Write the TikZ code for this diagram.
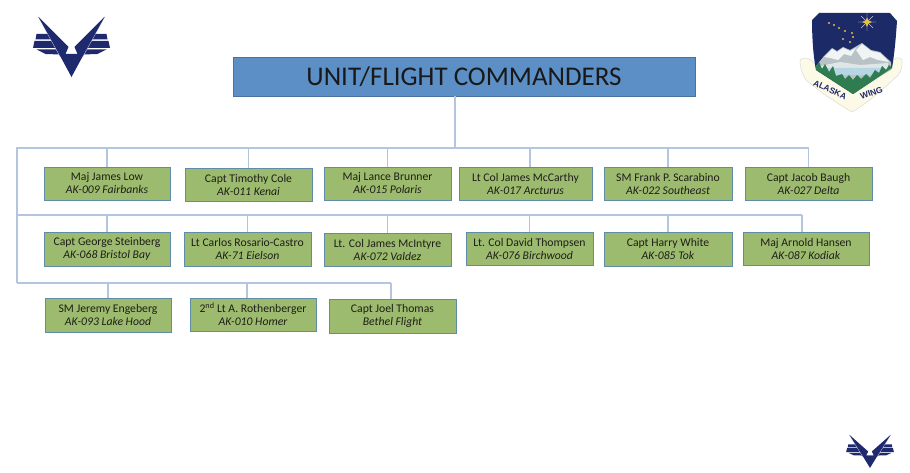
\documentclass[tikz,border=0pt]{standalone}
\usepackage{fontspec}
\setmainfont{Carlito}
\newfontfamily\badgefont{Liberation Sans}
\definecolor{boxgreen}{HTML}{9DBB6F}
\definecolor{boxedge}{HTML}{5F8CA6}
\definecolor{topblue}{HTML}{5B8FC6}
\definecolor{busline}{HTML}{B4C6DF}
\definecolor{inktext}{HTML}{1E1E18}
\definecolor{navy}{HTML}{1F2A6E}
\definecolor{lav}{HTML}{B9BDE0}
\definecolor{cream}{HTML}{FCF9E6}
\definecolor{sky}{HTML}{1C2A68}
\definecolor{rock}{HTML}{B9C2C6}
\definecolor{snow}{HTML}{F1F4F4}
\definecolor{lake}{HTML}{B5D6E2}
\definecolor{pine}{HTML}{2F7C50}
\definecolor{gold}{HTML}{E8BE3C}
\newcommand{\ub}[7]{%
  \pgfmathsetmacro{\ubw}{#4-#2}\pgfmathsetmacro{\ubh}{#5-#3}%
  \pgfmathsetmacro{\ubx}{(#2+#4)/2}\pgfmathsetmacro{\uby}{(#3+#5)/2}%
  \node[unitbox,minimum width=\ubw pt,minimum height=\ubh pt] (#1) at (\ubx,\uby) {#6\\\textit{#7}};%
}
\tikzset{
  x=1pt,y=-1pt,
  unitbox/.style={draw=boxedge,line width=0.9pt,fill=boxgreen,inner sep=0pt,align=center,
    text=inktext,font=\fontsize{11.7}{13}\selectfont},
  topbox/.style={fill=topblue,draw=topblue!80!black,line width=0.4pt,inner sep=0pt,
    text=black!90,font=\fontsize{27}{30}\selectfont},
  busl/.style={draw=busline,line width=1.2pt},
  logoband/.style={fill=navy},
}
\newcommand{\logo}[4]{%
 \begin{scope}[shift={(#1,#2)},xscale=#3,yscale=#4]
  \foreach \s in {-1,1}{
    \fill[logoband] (\s*35,34) -- (\s*23,34) -- (\s*18,39.5) -- (\s*36,39.5) -- cycle;
    \fill[logoband] (\s*37,41) -- (\s*18,41) -- (\s*15,48) -- (\s*38.5,48) -- cycle;
    \fill[logoband] (\s*35,49.5) -- (\s*14,49.5) -- (\s*11,54.5) -- (\s*26,54) -- cycle;
    \draw[lav,line width=0.8pt] (\s*33,17) -- (\s*11,57);
  }
  \fill[navy] (-33,17) -- (-3,47) -- (-6,54) -- (6,54) -- (3,47) -- (33,17)
     -- (13,53) -- (0,77) -- (-13,53) -- cycle;
 \end{scope}}
\begin{document}
\begin{tikzpicture}
\useasboundingbox (0,0) rectangle (910,473);
\fill[white] (0,0) rectangle (910,473);

% logos
\logo{71.5}{0}{1}{1}
\logo{870}{425.6}{0.62}{0.55}

% top box
\node[topbox,minimum width=462pt,minimum height=39pt] (top) at (464,76.5) {UNIT/FLIGHT COMMANDERS};

% row 1
\ub{a1}{44}{167}{170}{200}{Maj James Low}{AK-009 Fairbanks}
\ub{a2}{185}{168}{312}{201}{Capt Timothy Cole}{AK-011 Kenai}
\ub{a3}{324}{167}{451}{200}{Maj Lance Brunner}{AK-015 Polaris}
\ub{a4}{459}{167}{592}{200}{Lt Col James McCarthy}{AK-017 Arcturus}
\ub{a5}{604}{167}{732}{200}{SM Frank P. Scarabino}{AK-022 Southeast}
\ub{a6}{745}{167}{872}{200}{Capt Jacob Baugh}{AK-027 Delta}
% row 2
\ub{b1}{44}{232}{170}{266}{Capt George Steinberg}{AK-068 Bristol Bay}
\ub{b2}{184}{232}{311}{266}{Lt Carlos Rosario-Castro}{AK-71 Eielson}
\ub{b3}{324}{233}{451}{266}{Lt. Col James McIntyre}{AK-072 Valdez}
\ub{b4}{466}{232}{593}{265}{Lt. Col David Thompsen}{AK-076 Birchwood}
\ub{b5}{604}{232}{732}{266}{Capt Harry White}{AK-085 Tok}
\ub{b6}{743}{232}{869}{265}{Maj Arnold Hansen}{AK-087 Kodiak}
% row 3
\ub{c1}{45}{298}{171}{332}{SM Jeremy Engeberg}{AK-093 Lake Hood}
\ub{c2}{190}{298}{316}{331}{2\textsuperscript{nd} Lt A. Rothenberger}{AK-010 Homer}
\ub{c3}{329}{299}{456}{333}{Capt Joel Thomas}{Bethel Flight}

% connectors
\coordinate (busA) at (17,148);
\coordinate (busB) at (17,215);
\coordinate (busC) at (17,283);
\coordinate (trunk) at (455,148);
\draw[busl] (top.south -| trunk) -- (trunk);
\draw[busl] (busC) -- (busA) -- (a6.north |- busA);
\draw[busl] (busB) -- ([xshift=-4pt]b6.north |- busB);
\draw[busl] (busC) -- ([xshift=-1.5pt]c3.north |- busC);
\foreach \n/\d in {a1/0,a2/0,a3/0,a4/4.5,a5/0,a6/0}{
  \draw[busl] ([xshift=\d pt]\n.north) -- ([xshift=\d pt]\n.north |- busA);}
\foreach \n/\d in {b1/0,b2/0,b3/0,b4/0,b5/0,b6/-4}{
  \draw[busl] ([xshift=\d pt]\n.north) -- ([xshift=\d pt]\n.north |- busB);}
\foreach \n/\d in {c1/0,c2/-6,c3/-1.5}{
  \draw[busl] ([xshift=\d pt]\n.north) -- ([xshift=\d pt]\n.north |- busC);}

% badge: scroll
\fill[cream,draw=black!14,line width=0.5pt] (800,60) .. controls (804,56) and (811,58) .. (815,64)
  -- (852,90) -- (890,64) .. controls (894,57) and (900,56) .. (902,60)
  .. controls (903,68) and (899,76) .. (895,78) .. controls (880,92) and (866,104) .. (852,112)
  .. controls (838,104) and (820,92) .. (806,80) .. controls (802,74) and (800,68) .. cycle;
% badge: shield
\fill[sky] (819,13) -- (890,13) -- (897,21) .. controls (896,35) and (895,50) .. (892,68)
  -- (853,94) -- (816,70) .. controls (813,55) and (812,35) .. (812,20) -- cycle;
% mountains
\fill[rock] (816,66) -- (824,56) -- (832,48) -- (837,51) -- (843,47) -- (850,50) -- (862,43)
  -- (871,50) -- (880,52) -- (891,62) -- (891,70) -- (853,92) -- cycle;
\fill[snow] (824,57) -- (832,49) -- (837,52) -- (843,48) -- (850,51) -- (856,48) -- (851,56)
  -- (844,54) -- (838,60) -- (830,58) -- cycle;
\fill[snow] (856,50) -- (862,44) -- (871,51) -- (880,53) -- (889,62) -- (878,60) -- (870,57) -- (863,60) -- cycle;
\fill[snow!70!rock] (820,66) -- (840,62) -- (860,65) -- (888,63) -- (888,69) -- (822,70) -- cycle;
\fill[lake] (826,68) -- (884,68) -- (880,75) -- (832,75) -- cycle;
% trees
\fill[pine] (816,66) -- (819,62) -- (822,69) -- (825,64) -- (829,72) -- (833,66) -- (836,76) -- (842,74)
  -- (845,79) -- (849,75) -- (853,80) -- (857,75) -- (861,79) -- (866,74) -- (870,78) -- (875,70)
  -- (879,73) -- (882,66) -- (886,70) -- (889,65) -- (892,68) -- (853,94) -- (816,70) -- cycle;
% stars
\draw[snow,line width=0.35pt] (861,16) -- (873,28) (873,16) -- (861,28) (867,13) -- (867,31) (858,22) -- (876,22);
\fill[gold] (867,17.5) -- (868.5,20.5) -- (872,22) -- (868.5,23.5) -- (867,27) -- (865.5,23.5) -- (862,22) -- (865.5,20.5) -- cycle;
\foreach \p in {(829,23),(834,25),(839,28),(845,31),(852,33),(853,37),(850,42),(843,39)}
  \fill[gold] \p circle (1.2);
% scroll text
\node[rotate=-25,text=navy,inner sep=0,font=\badgefont\bfseries\fontsize{8.5}{9}\selectfont] (bl) at (830,90) {ALASKA};
\node[rotate=20,text=navy,inner sep=0,font=\badgefont\bfseries\fontsize{8.5}{9}\selectfont] (br) at (871.5,93) {WING};
\end{tikzpicture}
\end{document}
